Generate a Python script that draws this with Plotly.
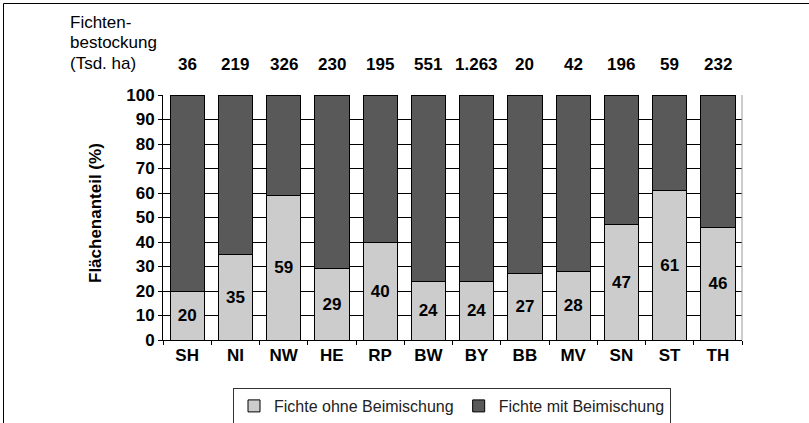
import plotly.graph_objects as go

states = ["SH", "NI", "NW", "HE", "RP", "BW", "BY", "BB", "MV", "SN", "ST", "TH"]
ohne = [20, 35, 59, 29, 40, 24, 24, 27, 28, 47, 61, 46]
mit = [100 - v for v in ohne]
bestockung = ["36", "219", "326", "230", "195", "551", "1.263", "20", "42", "196", "59", "232"]
y_ticks = list(range(0, 101, 10))
header_lines = ["Fichten-", "bestockung", "(Tsd. ha)"]

FONT = "Arial, Liberation Sans, sans-serif"
W, H = 809, 423
L, R, T, B = 163, 67, 95, 83
PW, PH = W - L - R, H - T - B


def px(x):
    return (x - L) / PW


def py(y):
    return (H - B - y) / PH


fig = go.Figure()
fig.add_trace(go.Bar(
    x=states, y=ohne, name="Fichte ohne Beimischung",
    marker=dict(color="#cccccc", line=dict(color="#000000", width=1)),
    text=[str(v) for v in ohne], textposition="inside", insidetextanchor="middle",
    textfont=dict(family=FONT, size=17, color="#000000", weight="bold"),
    textangle=0,
))
fig.add_trace(go.Bar(
    x=states, y=mit, name="Fichte mit Beimischung",
    marker=dict(color="#595959", line=dict(color="#000000", width=1)),
))

for s, b in zip(states, bestockung):
    fig.add_annotation(x=s, y=py(64), xref="x", yref="paper", yanchor="middle",
                       text="<b>%s</b>" % b, showarrow=False,
                       font=dict(family=FONT, size=17, color="#000000"))

for i, line in enumerate(header_lines):
    fig.add_annotation(x=px(68), y=py(22 + 20.5 * i), xref="paper", yref="paper",
                       xanchor="left", yanchor="middle", text=line, showarrow=False,
                       font=dict(family=FONT, size=17, color="#000000"))

fig.add_annotation(x=px(95), y=py(213), xref="paper", yref="paper",
                   text="<b>Flächenanteil (%)</b>", textangle=-90, showarrow=False,
                   xanchor="center", yanchor="middle",
                   font=dict(family=FONT, size=17, color="#000000"))

fig.update_layout(
    width=W, height=H,
    margin=dict(l=L, r=R, t=T, b=B, autoexpand=False),
    paper_bgcolor="white", plot_bgcolor="white",
    barmode="stack", bargap=0.29,
    showlegend=True,
    legend=dict(orientation="h", x=px(452), xanchor="center", y=py(388), yanchor="top",
                bordercolor="#333333", borderwidth=1,
                font=dict(family=FONT, size=16, color="#222222"),
                traceorder="normal", itemwidth=30),
    font=dict(family=FONT, color="#000000"),
)

fig.update_yaxes(range=[0, 100], tickvals=y_ticks, showgrid=True, gridcolor="#000000",
                 gridwidth=1, showline=True, linecolor="#000000", linewidth=1,
                 ticks="outside", ticklen=4, tickcolor="#000000",
                 tickfont=dict(family=FONT, size=17, color="#000000", weight="bold"),
                 zeroline=False, automargin=False)
fig.update_xaxes(showline=True, linecolor="#000000", linewidth=1, tickson="boundaries",
                 ticks="outside", ticklen=4, tickcolor="#000000",
                 tickfont=dict(family=FONT, size=17, color="#000000", weight="bold"),
                 showgrid=False, automargin=False)

fig.add_shape(type="line", xref="paper", yref="paper", x0=1, x1=1, y0=0, y1=1,
              line=dict(color="#999999", width=1))
fig.add_shape(type="line", xref="paper", yref="paper",
              x0=px(3.5), x1=px(3.5), y0=py(3.5), y1=py(H),
              line=dict(color="#000000", width=1))
fig.add_shape(type="line", xref="paper", yref="paper",
              x0=px(3.5), x1=px(W), y0=py(3.5), y1=py(3.5),
              line=dict(color="#000000", width=1))

fig.write_html("out.html", config={"displayModeBar": False},
               post_script="document.body.style.margin='0';document.body.style.overflow='hidden';")
